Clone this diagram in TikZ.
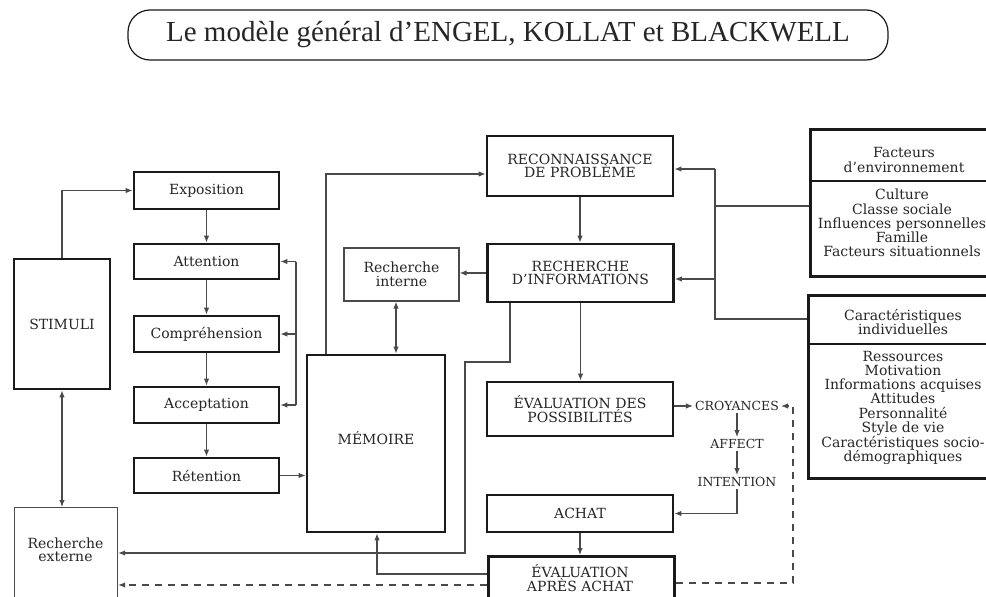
\documentclass[tikz,border=0pt]{standalone}
\usepackage{fontspec}
\setmainfont{DejaVu Serif}
\newfontfamily\titlefont{Liberation Serif}
\usetikzlibrary{arrows.meta}
\definecolor{boxc}{HTML}{1A1A1A}
\definecolor{linec}{HTML}{4A4A4A}
\definecolor{txtc}{HTML}{262626}
\newcommand\lblfnt{\fontsize{14}{13.5}\selectfont}
\newcommand\lstfnt{\fontsize{14}{14.2}\selectfont}
\newcommand\smfnt{\fontsize{12.5}{13}\selectfont}
\begin{document}
\begin{tikzpicture}[x=1pt,y=-1pt,
  bx/.style={draw=boxc, line width=2.8pt, align=center, font=\lblfnt, text=txtc, inner sep=0pt},
  tb/.style={draw=linec, line width=1.2pt, align=center, font=\lblfnt, text=txtc, inner sep=0pt},
  txt/.style={align=center, font=\lblfnt, text=txtc, inner sep=0pt},
  sm/.style={font=\smfnt, text=txtc, inner sep=2pt},
  ln/.style={draw=linec, line width=1.1pt},
  arr/.style={ln, -{Latex[length=7pt,width=5.5pt]}},
  arrb/.style={ln, {Latex[length=7pt,width=5.5pt]}-{Latex[length=7pt,width=5.5pt]}},
  dsh/.style={dash pattern=on 7pt off 6pt}]
\useasboundingbox (0,0) rectangle (986,597);
\clip (0,0) rectangle (986,597);
\fill[white] (0,0) rectangle (986,597);

% title
\node[draw=boxc, line width=1.2pt, rounded corners=22pt, minimum width=760, minimum height=50,
  font=\titlefont\fontsize{29}{30}\selectfont, text=txtc] (title) at (508,35)
  {Le modèle général d’ENGEL, KOLLAT et BLACKWELL};

% left column
\node[bx, minimum width=96, minimum height=130] (stimuli) at (62,324) {STIMULI};
\node[bx, minimum width=145, minimum height=37] (expo) at (206.5,190.5) {Exposition};
\node[bx, minimum width=145, minimum height=35] (att) at (206.5,261.5) {Attention};
\node[bx, minimum width=145, minimum height=36] (comp) at (206.5,334) {Compréhension};
\node[bx, minimum width=145, minimum height=36] (acc) at (206.5,405) {Acceptation};
\node[bx, minimum width=145, minimum height=35] (ret) at (206.5,475.5) {Rétention};
\node[tb, minimum width=103, minimum height=120, anchor=north west] (rext) at (14,507) {};
\node[txt] (rexttxt) at (65.5,550) {Recherche\\externe};

% middle
\node[bx, minimum width=138, minimum height=177] (mem) at (376,443.5) {};
\node[txt] (memtxt) at (376,438) {MÉMOIRE};
\node[tb, minimum width=115, minimum height=53] (rint) at (401.5,274.5) {Recherche\\interne};

% decision column
\node[bx, minimum width=186, minimum height=60] (reco) at (580,166) {RECONNAISSANCE\\DE PROBLÈME};
\node[bx, minimum width=186, minimum height=58] (rinf) at (580.5,273) {RECHERCHE\\D’INFORMATIONS};
\node[bx, minimum width=186, minimum height=54] (evp) at (580,409) {ÉVALUATION DES\\POSSIBILITÉS};
\node[bx, minimum width=186, minimum height=37] (achat) at (580,513.5) {ACHAT};
\node[bx, minimum width=186, minimum height=80, anchor=north west] (eva) at (487,555) {};
\node[txt] (evatxt) at (580,578) {ÉVALUATION\\APRÈS ACHAT};

% croyances chain
\node[sm] (croy) at (737,406) {CROYANCES};
\node[sm] (affect) at (737,444) {AFFECT};
\node[sm] (intention) at (737,482) {INTENTION};

% right boxes
\node[bx, minimum width=191, minimum height=147, anchor=north west] (env) at (809,128) {};
\draw[draw=boxc, line width=1.4pt] (809,181) -- (1000,181);
\node[txt, font=\lstfnt] (envh) at (904,160) {Facteurs\\d’environnement};
\node[txt, font=\lstfnt] (envl) at (902,223) {Culture\\Classe sociale\\Influences personnelles\\Famille\\Facteurs situationnels};

\node[bx, minimum width=193, minimum height=183, anchor=north west] (car) at (807,294) {};
\draw[draw=boxc, line width=1.4pt] (807,344) -- (1000,344);
\node[txt, font=\lstfnt] (carh) at (903,322) {Caractéristiques\\individuelles};
\node[txt, font=\lstfnt] (carl) at (903,408) {Ressources\\Motivation\\Informations acquises\\Attitudes\\Personnalité\\Style de vie\\Caractéristiques socio-\\démographiques};

% connectors: perception chain
\draw[arr] (stimuli.north) |- (expo.west);
\draw[arrb] (stimuli.south) -- (stimuli.south |- rext.north);
\draw[arr] (expo.south) -- (att.north);
\draw[arr] (att.south) -- (comp.north);
\draw[arr] (comp.south) -- (acc.north);
\draw[arr] (acc.south) -- (ret.north);
\coordinate (br) at (296,0);
\draw[ln] (att.east -| br) -- (acc.east -| br);
\draw[arr] (att.east -| br) -- (att.east);
\draw[arr] (comp.east -| br) -- (comp.east);
\draw[arr] (acc.east -| br) -- (acc.east);
\draw[arr] (ret.east) -- (ret.east -| mem.west);

% memory links
\coordinate (c1) at (326,174);
\draw[arr] (c1 |- mem.north) -- (c1) -- (c1 -| reco.west);
\coordinate (c2) at (396,0);
\draw[arrb] (c2 |- rint.south) -- (c2 |- mem.north);
\draw[arr] (rinf.west) -- (rinf.west -| rint.east);

% decision chain
\draw[arr] (reco.south) -- (reco.south |- rinf.north);
\draw[arr] (rinf.south) -- (rinf.south |- evp.north);
\coordinate (c3) at (510,362);
\coordinate (c4) at (465,362);
\coordinate (c5) at (465,553);
\draw[arr] (c3 |- rinf.south) -- (c3) -- (c4) -- (c5) -- (c5 -| rext.east);
\draw[arr] (achat.south) -- (achat.south |- eva.north);
\coordinate (c6) at (377,574);
\draw[arr] (c6 -| eva.west) -- (c6) -- (c6 |- mem.south);
\coordinate (c7) at (0,585);
\draw[arr, dsh] (c7 -| eva.west) -- (c7 -| rext.east);
\coordinate (c8) at (793,583);
\draw[arr, dsh] (c8 -| eva.east) -- (c8) |- (croy.east);

% croyances
\draw[arr] (croy.west -| evp.east) -- (croy.west);
\draw[arr] (croy.south) -- (affect.north);
\draw[arr] (affect.south) -- (intention.north);
\draw[arr] (intention.south) |- (achat.east);

% environment influences
\coordinate (e1) at (715,206);
\coordinate (e2) at (715,169);
\coordinate (e3) at (715,279);
\coordinate (e4) at (715,319);
\draw[ln] (e1 -| env.west) -- (e1);
\draw[ln] (e2) -- (e4) -- (e4 -| car.west);
\draw[arr] (e2) -- (e2 -| reco.east);
\draw[arr] (e3) -- (e3 -| rinf.east);
\end{tikzpicture}
\end{document}
